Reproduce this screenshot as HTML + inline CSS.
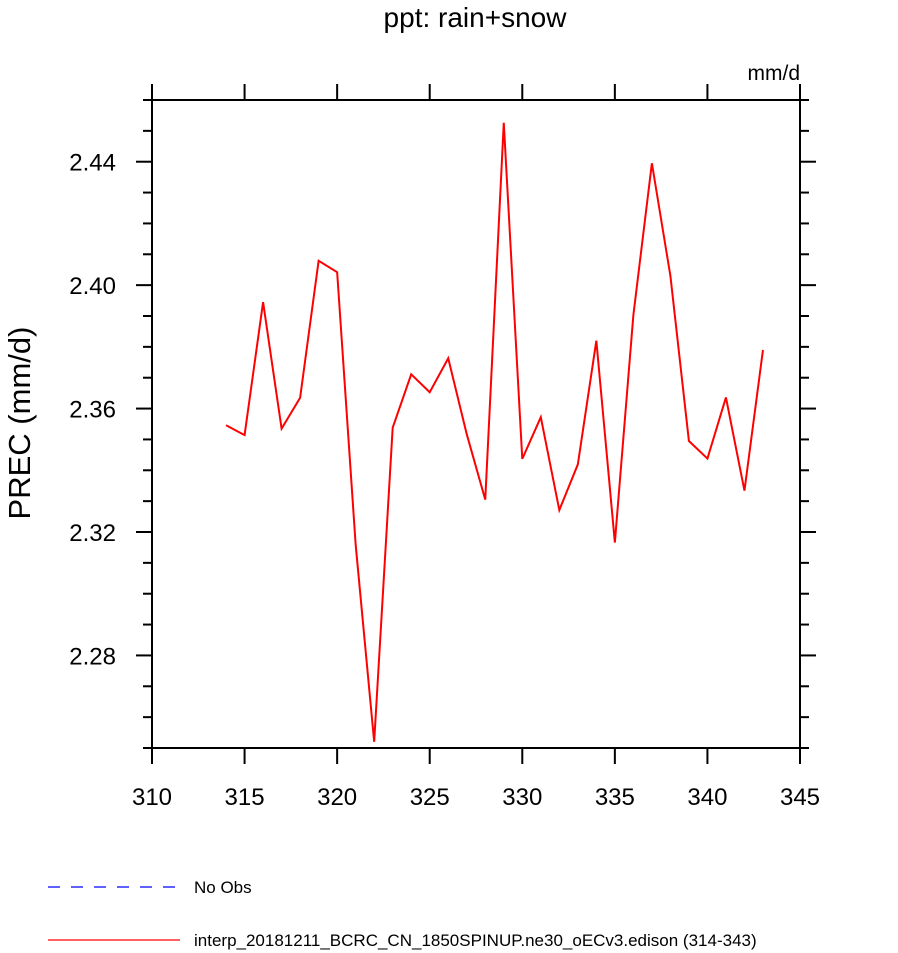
<!DOCTYPE html>
<html><head><meta charset="utf-8"><style>
html,body{margin:0;padding:0;background:#fff;}
svg{display:block;font-family:"Liberation Sans",Arial,sans-serif;}
</style></head><body>
<svg id="chart" width="898" height="953">
<text x="475" y="27" font-size="28" text-anchor="middle">ppt: rain+snow</text>
<text x="800" y="80" font-size="21" text-anchor="end">mm/d</text>
<text transform="translate(30,423) rotate(-90)" font-size="31" text-anchor="middle">PREC  (mm/d)</text>
<g id="axes"></g>
<g id="series"></g>
<g>
<line x1="48" y1="887" x2="180" y2="887" stroke="#0000ff" stroke-width="1.2" stroke-dasharray="12,11"/>
<text x="194" y="893" font-size="17">No Obs</text>
<line x1="48" y1="940" x2="180" y2="940" stroke="#ff0000" stroke-width="1.2"/>
<text x="194" y="946" font-size="17">interp_20181211_BCRC_CN_1850SPINUP.ne30_oECv3.edison (314-343)</text>
</g>
</svg>
<script>
const years=[314,315,316,317,318,319,320,321,322,323,324,325,326,327,328,329,330,331,332,333,334,335,336,337,338,339,340,341,342,343];
const prec=[2.3546,2.3514,2.3945,2.3535,2.3635,2.4079,2.4042,2.3159,2.2520,2.3538,2.3711,2.3653,2.3763,2.3517,2.3305,2.4526,2.3437,2.3572,2.3271,2.3419,2.3820,2.3166,2.3903,2.4395,2.4030,2.3495,2.3438,2.3636,2.3334,2.3790];
const xTicks=[310,315,320,325,330,335,340,345];
const yTicks=[2.28,2.32,2.36,2.40,2.44];
const xMin=310,xMax=345,yMin=2.25,yMax=2.46;
const L=152,R=800,T=100,B=748;
const sx=v=>L+(v-xMin)/(xMax-xMin)*(R-L);
const sy=v=>B-(v-yMin)/(yMax-yMin)*(B-T);
const NS="http://www.w3.org/2000/svg";
const axes=document.getElementById('axes');
function mk(tag,attrs,parent){const e=document.createElementNS(NS,tag);for(const k in attrs)e.setAttribute(k,attrs[k]);parent.appendChild(e);return e;}
const frame=mk('rect',{x:L,y:T,width:R-L,height:B-T,fill:'none',stroke:'#000','stroke-width':2},axes);


xTicks.forEach(v=>{
  const x=sx(v);
  const t1=mk('line',{x1:x,y1:B,x2:x,y2:B+16,stroke:'#000','stroke-width':2},axes);
  
  
  const t2=mk('line',{x1:x,y1:T,x2:x,y2:T-16,stroke:'#000','stroke-width':2},axes);
  
  
  const lb=mk('text',{x:x,y:B+57,'font-size':24,'text-anchor':'middle'},axes);
  lb.textContent=v;
  
  
});
for(let i=0;i<=21;i++){
  const v=yMin+i*0.01;const y=sy(v);
  const major=yTicks.some(t=>Math.abs(t-v)<1e-6);
  const len=major?16:9;
  const a=mk('line',{x1:L,y1:y,x2:L-len,y2:y,stroke:'#000','stroke-width':2},axes);
  
  
  const b=mk('line',{x1:R,y1:y,x2:R+len,y2:y,stroke:'#000','stroke-width':2},axes);
  
  
}
yTicks.forEach(v=>{
  const lb=mk('text',{x:L-36,y:sy(v)+9,'font-size':24,'text-anchor':'end'},axes);
  lb.textContent=v.toFixed(2);
  
  
});
const pts=years.map((yr,i)=>sx(yr)+','+sy(prec[i])).join(' ');
const line=mk('polyline',{points:pts,fill:'none',stroke:'#ff0000','stroke-width':2},document.getElementById('series'));


</script>
</body></html>
